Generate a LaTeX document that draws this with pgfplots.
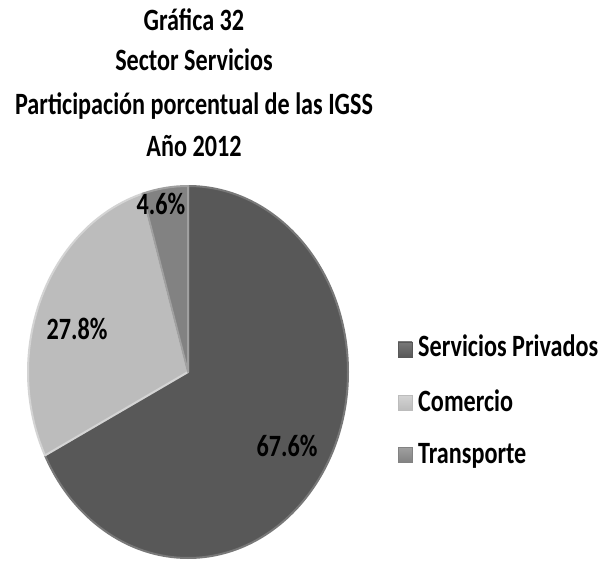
\documentclass[border=0pt]{standalone}
\usepackage{pgfplots}
\usepackage{pgfplotstable}
\pgfplotsset{compat=1.18}
\usepackage{fontspec}
\setmainfont{Carlito}
\newfontfamily\chartfont[FakeStretch=0.78]{Carlito}

\definecolor{cServ}{RGB}{88,88,88}
\definecolor{cServEdge}{RGB}{120,120,120}
\definecolor{cCom}{RGB}{188,188,188}
\definecolor{cComEdge}{RGB}{212,212,212}
\definecolor{cTra}{RGB}{130,130,130}
\definecolor{cTraEdge}{RGB}{160,160,160}

\pgfplotstableread{
label value
{Servicios Privados} 67.6
Comercio 27.8
Transporte 4.6
}\pietable

\pgfplotstablegetelem{0}{value}\of\pietable \let\vA\pgfplotsretval
\pgfplotstablegetelem{1}{value}\of\pietable \let\vB\pgfplotsretval
\pgfplotstablegetelem{2}{value}\of\pietable \let\vC\pgfplotsretval
\pgfmathsetmacro\aS{90}
\pgfmathsetmacro\aA{90-3.6*\vA}
\pgfmathsetmacro\aB{\aA-3.6*\vB}
\pgfmathsetmacro\aC{\aB-3.6*\vC}

\newcommand\tfont{\chartfont\bfseries\fontsize{31}{36}\selectfont}

\begin{document}
\begin{tikzpicture}
\begin{axis}[x=1pt,y=1pt,xmin=0,xmax=600,ymin=0,ymax=563,hide axis,clip=false]
\path (axis cs:0,0) rectangle (axis cs:600,563);
% slices
\filldraw[fill=cServ,draw=cServEdge,line width=2pt,line join=round]
  (axis cs:188,191) -- ++(\aS:160pt and 186pt)
  arc[start angle=\aS,end angle=\aA,x radius=160pt,y radius=186pt] -- cycle;
\filldraw[fill=cCom,draw=cComEdge,line width=2pt,line join=round]
  (axis cs:188,191) -- ++(\aA:160pt and 186pt)
  arc[start angle=\aA,end angle=\aB,x radius=160pt,y radius=186pt] -- cycle;
\filldraw[fill=cTra,draw=cTraEdge,line width=2pt,line join=round]
  (axis cs:188,191) -- ++(\aB:160pt and 186pt)
  arc[start angle=\aB,end angle=\aC,x radius=160pt,y radius=186pt] -- cycle;
% labels
\node[font=\tfont] at (axis cs:287,117) {\vA\%};
\node[font=\tfont] at (axis cs:77,234) {\vB\%};
\node[font=\tfont] at (axis cs:161,359) {\vC\%};
% title
\node[font=\tfont,anchor=base] at (axis cs:194,532) {Gráfica 32};
\node[font=\tfont,anchor=base] at (axis cs:194,492) {Sector Servicios};
\node[font=\tfont,anchor=base] at (axis cs:194,448) {Participación porcentual de las IGSS};
\node[font=\tfont,anchor=base] at (axis cs:194,406) {Año 2012};
% legend
\shade[top color=cServEdge,bottom color=cServ,draw=cServ] (axis cs:398,206) rectangle (axis cs:412,221);
\shade[top color=cComEdge,bottom color=cCom,draw=cCom] (axis cs:398,153) rectangle (axis cs:412,168);
\shade[top color=cTraEdge,bottom color=cTra,draw=cTra] (axis cs:398,101) rectangle (axis cs:412,116);
\node[font=\tfont,anchor=base west,inner sep=0pt] at (axis cs:418,206) {Servicios Privados};
\node[font=\tfont,anchor=base west,inner sep=0pt] at (axis cs:418,152) {Comercio};
\node[font=\tfont,anchor=base west,inner sep=0pt] at (axis cs:418,100) {Transporte};
\end{axis}
\end{tikzpicture}
\end{document}
